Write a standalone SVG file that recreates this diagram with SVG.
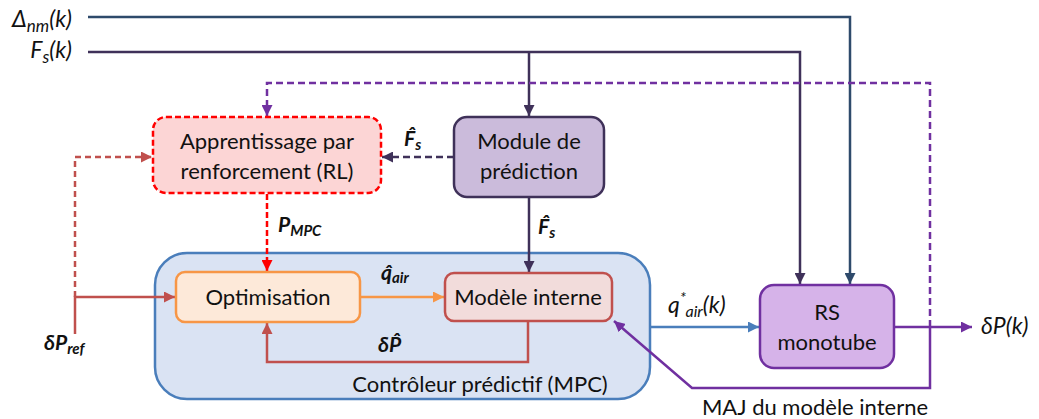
<svg xmlns="http://www.w3.org/2000/svg" width="1039" height="419" viewBox="0 0 1039 419">
<style>
text{font-family:Lato,"Liberation Sans","DejaVu Sans",sans-serif;fill:#111;}
.lbl{font-size:22px;text-anchor:middle;}
.it{font-style:italic;font-size:23px;}
.bi{font-style:italic;font-weight:bold;font-size:21px;}
.ln{fill:none;stroke-width:2.5;}
</style>
<defs>
<marker id="aNavy" viewBox="0 0 10 10" refX="10" refY="5" markerWidth="11" markerHeight="11" markerUnits="userSpaceOnUse" orient="auto"><path d="M0,0L10,5L0,10z" fill="#2e4a6b"/></marker>
<marker id="aDP" viewBox="0 0 10 10" refX="10" refY="5" markerWidth="11" markerHeight="11" markerUnits="userSpaceOnUse" orient="auto"><path d="M0,0L10,5L0,10z" fill="#3f3159"/></marker>
<marker id="aPur" viewBox="0 0 10 10" refX="10" refY="5" markerWidth="11" markerHeight="11" markerUnits="userSpaceOnUse" orient="auto"><path d="M0,0L10,5L0,10z" fill="#7030a0"/></marker>
<marker id="aRed" viewBox="0 0 10 10" refX="10" refY="5" markerWidth="11" markerHeight="11" markerUnits="userSpaceOnUse" orient="auto"><path d="M0,0L10,5L0,10z" fill="#ff0000"/></marker>
<marker id="aBrick" viewBox="0 0 10 10" refX="10" refY="5" markerWidth="11" markerHeight="11" markerUnits="userSpaceOnUse" orient="auto"><path d="M0,0L10,5L0,10z" fill="#c0504d"/></marker>
<marker id="aOr" viewBox="0 0 10 10" refX="10" refY="5" markerWidth="11" markerHeight="11" markerUnits="userSpaceOnUse" orient="auto"><path d="M0,0L10,5L0,10z" fill="#f79646"/></marker>
<marker id="aBlue" viewBox="0 0 10 10" refX="10" refY="5" markerWidth="11" markerHeight="11" markerUnits="userSpaceOnUse" orient="auto"><path d="M0,0L10,5L0,10z" fill="#4a7ebb"/></marker>
</defs>

<g id="mpc">
<rect x="155" y="253" width="495" height="146" rx="32" fill="#dae3f3" stroke="#4a7ebb" stroke-width="2.5"/>
<text class="lbl" x="480" y="392">Contrôleur prédictif (MPC)</text>
</g>

<g id="connectors">
<polyline class="ln" stroke="#2e4a6b" points="88,17 850,17 850,284" marker-end="url(#aNavy)"/>
<polyline class="ln" stroke="#3f3159" points="88,52 800,52 800,284" marker-end="url(#aDP)"/>
<line class="ln" stroke="#3f3159" x1="529" y1="52" x2="529" y2="116" marker-end="url(#aDP)"/>
<line class="ln" stroke="#3f3159" stroke-dasharray="7,4" x1="454" y1="157" x2="382" y2="157" marker-end="url(#aDP)"/>
<line class="ln" stroke="#3f3159" x1="529" y1="197" x2="529" y2="272" marker-end="url(#aDP)"/>
<line class="ln" stroke="#ff0000" stroke-dasharray="6,3" x1="267" y1="194" x2="267" y2="271" marker-end="url(#aRed)"/>
<polyline class="ln" stroke="#c0504d" points="75,334 75,297 175,297" marker-end="url(#aBrick)"/>
<polyline class="ln" stroke="#c0504d" stroke-dasharray="6,4" points="75,297 75,157 152,157" marker-end="url(#aBrick)"/>
<line class="ln" stroke="#f79646" x1="360" y1="297" x2="444" y2="297" marker-end="url(#aOr)"/>
<polyline class="ln" stroke="#c0504d" points="528,321 528,362 267,362 267,323" marker-end="url(#aBrick)"/>
<line class="ln" stroke="#4a7ebb" x1="650" y1="327" x2="759" y2="327" marker-end="url(#aBlue)"/>
<line class="ln" stroke="#7030a0" x1="894" y1="327" x2="972" y2="327" marker-end="url(#aPur)"/>
<polyline class="ln" stroke="#7030a0" points="930,327 930,388 692,388 614,321" marker-end="url(#aPur)"/>
<polyline class="ln" stroke="#7030a0" stroke-dasharray="7,4" points="930,327 930,83 267,83 267,116" marker-end="url(#aPur)"/>
</g>

<g id="rl">
<rect x="153" y="117" width="228" height="76" rx="13" fill="#fcd5d5" stroke="#ff0000" stroke-width="2.5" stroke-dasharray="6,3"/>
<text class="lbl" x="267" y="149">Apprentissage par</text>
<text class="lbl" x="267" y="179">renforcement (RL)</text>
</g>

<g id="module">
<rect x="454" y="117" width="150" height="80" rx="13" fill="#cbbbdb" stroke="#3f3159" stroke-width="2.5"/>
<text class="lbl" x="529" y="149">Module de</text>
<text class="lbl" x="529" y="179">prédiction</text>
</g>

<g id="optimisation">
<rect x="176" y="272" width="184" height="50" rx="9" fill="#fde9d9" stroke="#f79646" stroke-width="2.5"/>
<text class="lbl" x="268" y="305">Optimisation</text>
</g>

<g id="modele">
<rect x="445" y="273" width="167" height="48" rx="9" fill="#f2dcdb" stroke="#c0504d" stroke-width="2.5"/>
<text class="lbl" x="528" y="305">Modèle interne</text>
</g>

<g id="rs">
<rect x="760" y="285" width="134" height="83" rx="14" fill="#d6b3e9" stroke="#7030a0" stroke-width="2.5"/>
<text class="lbl" x="827" y="320">RS</text>
<text class="lbl" x="827" y="350">monotube</text>
</g>

<g id="labels">
<text class="it" x="72" y="27" text-anchor="end">Δ<tspan font-size="17" dy="5">nm</tspan><tspan dy="-5">(k)</tspan></text>
<text class="it" x="72" y="58" text-anchor="end">F<tspan font-size="17" dy="5">s</tspan><tspan dy="-5">(k)</tspan></text>
<text class="bi" x="404" y="146">F̂<tspan font-size="15" dy="4">s</tspan></text>
<text class="bi" x="538" y="234">F̂<tspan font-size="15" dy="4">s</tspan></text>
<text class="bi" x="278" y="232">P<tspan font-size="15" dy="4">MPC</tspan></text>
<text class="bi" x="381" y="280">q̂<tspan font-size="15" dy="3">air</tspan></text>
<text class="bi" x="378" y="352">δP̂</text>
<text class="bi" x="44" y="350">δP<tspan font-size="15" dy="4">ref</tspan></text>
<text class="it" x="668" y="313">q<tspan font-size="16" dy="-10">*</tspan><tspan font-size="16" dy="14">air</tspan><tspan dy="-4">(k)</tspan></text>
<text class="it" x="981" y="334">δP(k)</text>
<text class="lbl" x="815" y="415">MAJ du modèle interne</text>
</g>
</svg>
